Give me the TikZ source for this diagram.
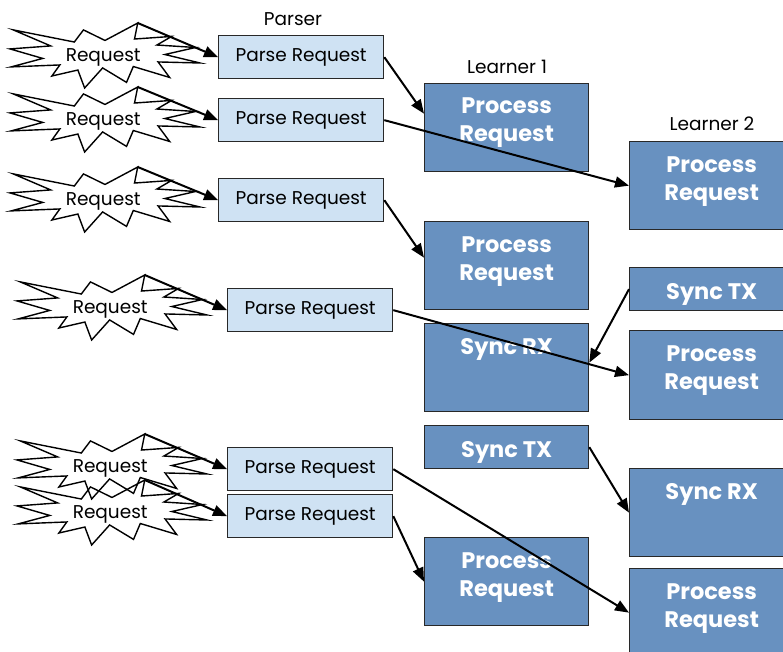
\documentclass[tikz,border=0pt]{standalone}
\usepackage{fontspec}
\setmainfont{Poppins}
\usetikzlibrary{arrows.meta}
\definecolor{parsefill}{RGB}{207,226,243}
\definecolor{learnfill}{RGB}{104,145,192}
\definecolor{edgegray}{RGB}{40,40,40}

% Explosion-shaped request marker; #1 = name, (#2,#3) = top-left corner
\newcommand{\reqstar}[3]{%
  \begin{scope}[shift={(#2,#3)}, x=0.8796pt, y=-0.3009pt]
    \draw[starline] (108,58) -- (145.22,0) -- (141.55,53.25) -- (183.80,44.57)
      -- (167.02,73.15) -- (210.97,81.37) -- (176.07,104.75) -- (216,132.90)
      -- (168.37,129.42) -- (181.45,180.95) -- (140.20,144.57) -- (132.47,197.37)
      -- (105.32,149.35) -- (84.85,216) -- (77.15,156.27) -- (47.62,176.17)
      -- (56.67,139.37) -- (1.35,145.87) -- (37.22,117.75) -- (0,86.15)
      -- (46.27,76.17) -- (3.70,22.95) -- (73.12,63.20) -- (83.52,22.95) -- cycle;
    \coordinate (#1) at (145.22,0);
    \node[reqtext] (#1t) at (106,116) {Request};
  \end{scope}}

\tikzset{
  plainfont/.style={font=\fontsize{18.5}{22}\selectfont},
  boldfont/.style={font=\bfseries\fontsize{22.5}{28}\selectfont},
  starline/.style={draw=black, line width=1.4pt, line join=miter},
  reqtext/.style={plainfont, inner sep=0pt},
  parsebox/.style={draw=edgegray, fill=parsefill, line width=1.3pt, anchor=north west,
    minimum width=165pt, minimum height=43pt, inner sep=0pt, plainfont},
  learnbox/.style={draw=edgegray, fill=learnfill, line width=1.3pt, anchor=north west,
    minimum width=164pt, minimum height=88pt, inner sep=0pt, text=white, boldfont},
  shortbox/.style={learnbox, minimum height=43pt, text height=21pt, text depth=0pt},
  toptext/.style={anchor=north, yshift=-15pt, text=white, align=center, inner sep=0pt,
    boldfont},
  heading/.style={plainfont, inner sep=0pt},
  flow/.style={draw=black, line width=2pt, -{Triangle[length=14pt,width=11pt]}},
}

\begin{document}
\begin{tikzpicture}[x=1pt, y=-1pt]
  \useasboundingbox (0,0) rectangle (783,651);

  % column headings
  \node[heading] (hparser) at (293,19) {Parser};
  \node[heading] (hl1) at (507,67) {Learner 1};
  \node[heading] (hl2) at (712,124) {Learner 2};

  % incoming requests
  \reqstar{s1}{10}{23}
  \reqstar{s2}{10}{87}
  \reqstar{s3}{10}{167}
  \reqstar{s4}{17}{275}
  \reqstar{s5}{17}{434}
  \reqstar{s6}{17}{480}

  % parser stage
  \node[parsebox] (p1) at (218,35)  {Parse Request};
  \node[parsebox] (p2) at (218,98)  {Parse Request};
  \node[parsebox] (p3) at (218,178) {Parse Request};
  \node[parsebox] (p4) at (227,288) {Parse Request};
  \node[parsebox] (p5) at (227,447) {Parse Request};
  \node[parsebox] (p6) at (227,494) {Parse Request};

  % learner 1
  \node[learnbox, label={[toptext]north:Process\\Request}] (l1a) at (424,83) {};
  \node[learnbox, label={[toptext]north:Process\\Request}] (l1b) at (424,221) {};
  \node[learnbox, label={[toptext]north:Sync RX}] (l1rx) at (424,323) {};
  \node[shortbox] (l1tx) at (424,425) {Sync TX};
  \node[learnbox, label={[toptext]north:Process\\Request}] (l1c) at (424,537) {};

  % learner 2
  \node[learnbox, label={[toptext]north:Process\\Request}] (l2a) at (629,141) {};
  \node[shortbox] (l2tx) at (629,267) {Sync TX};
  \node[learnbox, minimum height=89pt, label={[toptext]north:Process\\Request}] (l2b) at (629,330) {};
  \node[learnbox, label={[toptext]north:Sync RX}] (l2rx) at (629,468) {};
  \node[learnbox, label={[toptext]north:Process\\Request}] (l2c) at (629,568) {};

  % requests into parsers
  \draw[flow] (s1) -- (p1.west);
  \draw[flow] (s2) -- (p2.west);
  \draw[flow] (s3) -- (p3.west);
  \draw[flow] (s4) -- (p4.west);
  \draw[flow] (s5) -- (p5.west);
  \draw[flow] (s6) -- (p6.west);

  % parsers into learners
  \draw[flow] (p1.east) -- ([yshift=14pt]l1a.west);
  \draw[flow] (p2.east) -- (l2a.west);
  \draw[flow] (p3.east) -- ([yshift=8pt]l1b.west);
  \draw[flow] (p4.east) -- (l2b.west);
  \draw[flow] (p5.east) -- (l2c.west);
  \draw[flow] (p6.east) -- (l1c.west);

  % synchronisation between learners
  \draw[flow] (l2tx.west) -- ([yshift=5pt]l1rx.east);
  \draw[flow] (l1tx.east) -- (l2rx.west);
\end{tikzpicture}
\end{document}
